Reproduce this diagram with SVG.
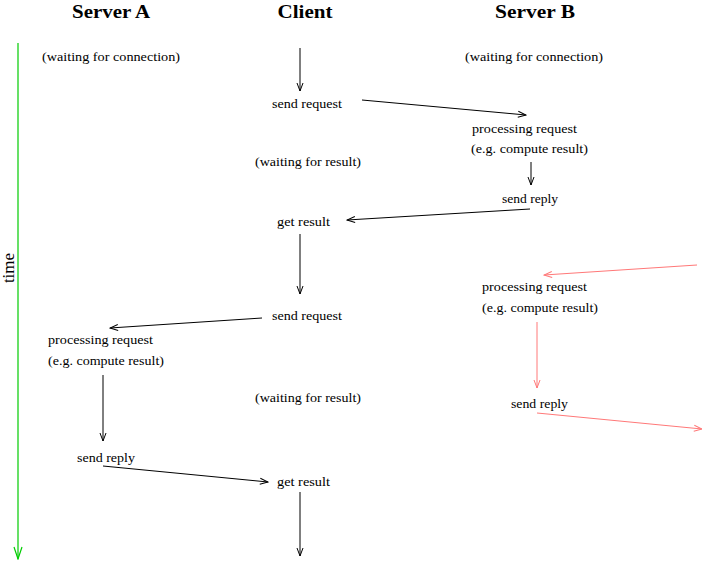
<svg xmlns="http://www.w3.org/2000/svg" width="702" height="562" viewBox="0 0 702 562">
<style>
.h{font-family:"Liberation Serif",serif;font-weight:bold;font-size:19px;text-anchor:middle;fill:#000}
.t{font-family:"Liberation Serif",serif;font-size:12px;fill:#000}
.k{stroke:#000;stroke-width:1;fill:none}
.r{stroke:#ff7878;stroke-width:1;fill:none}
.g{stroke:#00cc00;stroke-width:1.2;fill:none}
</style>
<defs>
<marker id="ak" markerWidth="10" markerHeight="8" refX="9" refY="4" orient="auto" markerUnits="userSpaceOnUse"><path d="M1,1 L9,4 L1,7" fill="none" stroke="#000" stroke-width="1"/></marker>
<marker id="ar" markerWidth="10" markerHeight="8" refX="9" refY="4" orient="auto" markerUnits="userSpaceOnUse"><path d="M1,1 L9,4 L1,7" fill="none" stroke="#ff7878" stroke-width="1"/></marker>
<marker id="ag" markerWidth="14" markerHeight="10" refX="13" refY="5" orient="auto" markerUnits="userSpaceOnUse"><path d="M1,1 L13,5 L1,9" fill="none" stroke="#00cc00" stroke-width="1.2"/></marker>
</defs>
<g id="headers">
<text class="h" x="111" y="18" textLength="78" lengthAdjust="spacingAndGlyphs">Server A</text>
<text class="h" x="305" y="18" textLength="55" lengthAdjust="spacingAndGlyphs">Client</text>
<text class="h" x="535" y="18" textLength="80" lengthAdjust="spacingAndGlyphs">Server B</text>
</g>
<g id="timeaxis">
<line class="g" x1="18" y1="43" x2="18" y2="559" marker-end="url(#ag)"/>
<text font-family="Liberation Serif,serif" font-size="17" text-anchor="middle" transform="translate(14,268) rotate(-90)">time</text>
</g>
<g id="labels">
<text class="t" x="42" y="61" textLength="138" lengthAdjust="spacingAndGlyphs">(waiting for connection)</text>
<text class="t" x="465" y="61" textLength="138" lengthAdjust="spacingAndGlyphs">(waiting for connection)</text>
<text class="t" x="272" y="108" textLength="70" lengthAdjust="spacingAndGlyphs">send request</text>
<text class="t" x="472" y="133" textLength="105" lengthAdjust="spacingAndGlyphs">processing request</text>
<text class="t" x="471" y="153" textLength="117" lengthAdjust="spacingAndGlyphs">(e.g. compute result)</text>
<text class="t" x="255" y="166" textLength="106" lengthAdjust="spacingAndGlyphs">(waiting for result)</text>
<text class="t" x="502" y="203" textLength="56" lengthAdjust="spacingAndGlyphs">send reply</text>
<text class="t" x="277" y="226" textLength="53" lengthAdjust="spacingAndGlyphs">get result</text>
<text class="t" x="272" y="320" textLength="70" lengthAdjust="spacingAndGlyphs">send request</text>
<text class="t" x="48" y="344" textLength="105" lengthAdjust="spacingAndGlyphs">processing request</text>
<text class="t" x="48" y="365" textLength="116" lengthAdjust="spacingAndGlyphs">(e.g. compute result)</text>
<text class="t" x="255" y="402" textLength="106" lengthAdjust="spacingAndGlyphs">(waiting for result)</text>
<text class="t" x="77" y="462" textLength="58" lengthAdjust="spacingAndGlyphs">send reply</text>
<text class="t" x="277" y="486" textLength="53" lengthAdjust="spacingAndGlyphs">get result</text>
<text class="t" x="482" y="291" textLength="105" lengthAdjust="spacingAndGlyphs">processing request</text>
<text class="t" x="482" y="312" textLength="116" lengthAdjust="spacingAndGlyphs">(e.g. compute result)</text>
<text class="t" x="511" y="408" textLength="57" lengthAdjust="spacingAndGlyphs">send reply</text>
</g>
<g id="connectors">
<line class="k" x1="300" y1="48" x2="300" y2="91" marker-end="url(#ak)"/>
<line class="k" x1="362" y1="100" x2="526" y2="115" marker-end="url(#ak)"/>
<line class="k" x1="531" y1="162" x2="531" y2="185" marker-end="url(#ak)"/>
<line class="k" x1="530" y1="209" x2="347" y2="220" marker-end="url(#ak)"/>
<line class="k" x1="300" y1="234" x2="300" y2="294" marker-end="url(#ak)"/>
<line class="k" x1="262" y1="318" x2="110" y2="328" marker-end="url(#ak)"/>
<line class="k" x1="103" y1="375" x2="103" y2="441" marker-end="url(#ak)"/>
<line class="k" x1="103" y1="466" x2="268" y2="482" marker-end="url(#ak)"/>
<line class="k" x1="300" y1="492" x2="300" y2="556" marker-end="url(#ak)"/>
<line class="r" x1="697" y1="265" x2="544" y2="275" marker-end="url(#ar)"/>
<line class="r" x1="537" y1="322" x2="537" y2="388" marker-end="url(#ar)"/>
<line class="r" x1="537" y1="413" x2="702" y2="429" marker-end="url(#ar)"/>
</g>
</svg>
